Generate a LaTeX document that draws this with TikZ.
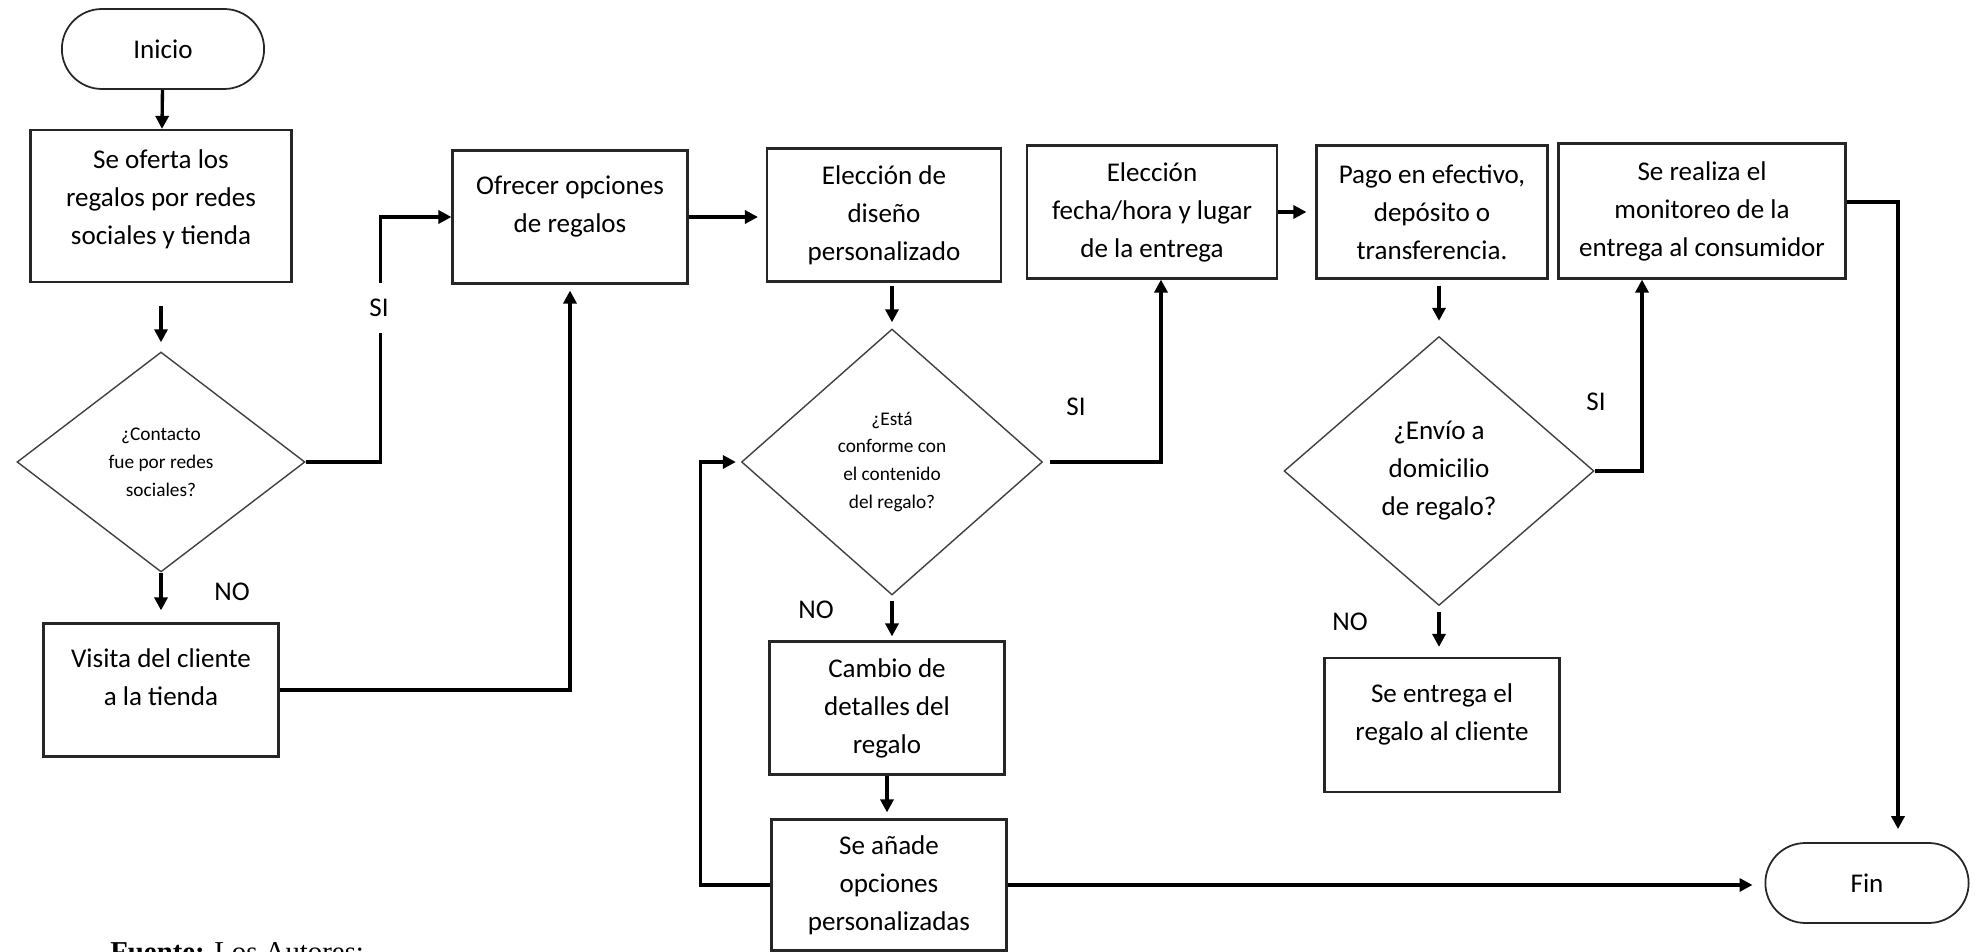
\documentclass[tikz,border=0pt]{standalone}
\usepackage{fontspec}
\setmainfont{Carlito}
\newfontfamily\timesfont{Liberation Serif}
\usetikzlibrary{shapes.geometric, shapes.misc, arrows.meta}

\begin{document}
\begin{tikzpicture}[
    x=0.02cm, y=-0.02cm,
    font=\fontsize{15.4}{21.6}\selectfont,
    box/.style={draw=black!85, line width=1.25pt, minimum height=2.66cm, inner sep=2pt, align=center},
    term/.style={draw=black!85, line width=1pt, rounded rectangle, minimum height=1.6cm},
    decision/.style={draw=black!75, line width=0.8pt, diamond, inner sep=0pt, align=center},
    small/.style={font=\fontsize{11}{15.9}\selectfont},
    flow/.style={line width=1.9pt, -{Triangle[length=0.26cm, width=0.26cm]}},
    lbl/.style={inner sep=1pt}
]
    \useasboundingbox (0,0) rectangle (1978,952);

    % --- Start / End ---
    \node[term, minimum width=4.28cm] (ini) at (163,49) {Inicio};
    \node[term, minimum width=4.3cm] (fin) at (1867,883) {Fin};

    % --- First column ---
    \node[box, minimum width=5.22cm, minimum height=3.04cm] (oferta) at (161,206) {Se oferta los\\regalos por redes\\sociales y tienda\\[-11.4pt]\mbox{}};
    \node[decision, small, minimum width=5.76cm, minimum height=4.4cm] (d1) at (161,462) {¿Contacto\\fue por redes\\sociales?};
    \node[box, minimum width=4.7cm] (visita) at (161,690) {Visita del cliente\\a la tienda\\[-6.8pt]\mbox{}};

    % --- Top row ---
    \node[box, minimum width=4.7cm] (ofrecer) at (570,217) {Ofrecer opciones\\de regalos\\[-6.8pt]\mbox{}};
    \node[box, minimum width=4.68cm] (diseno) at (884,215) {Elección de\\diseño\\personalizado};
    \node[box, minimum width=5.0cm] (fecha) at (1152,212) {Elección\\fecha/hora y lugar\\de la entrega};
    \node[box, minimum width=4.62cm] (pago) at (1432,212) {Pago en efectivo,\\depósito o\\transferencia.};
    \node[box, minimum width=5.74cm, minimum height=2.7cm] (monit) at (1702,211) {Se realiza el\\monitoreo de la\\entrega al consumidor};

    % --- Decisions ---
    \node[decision, small, minimum width=6.02cm, minimum height=5.32cm] (d2) at (892,462) {¿Está\\conforme con\\el contenido\\del regalo?};
    \node[decision, minimum width=6.2cm, minimum height=5.38cm] (d3) at (1439,471) {¿Envío a\\domicilio\\de regalo?};

    % --- Lower boxes ---
    \node[box, minimum width=4.7cm] (cambio) at (887,708) {Cambio de\\detalles del\\regalo};
    \node[box, minimum width=4.7cm, minimum height=2.62cm] (anade) at (889,885) {Se añade\\opciones\\personalizadas};
    \node[box, minimum width=4.7cm, minimum height=2.68cm] (entrega) at (1442,725) {Se entrega el\\regalo al cliente\\[-6.8pt]\mbox{}};

    % --- Connectors ---
    \draw[flow] (ini) -- (oferta);
    \draw[flow, shorten <=0.46cm, shorten >=0.18cm] (oferta) -- (d1);
    \draw[flow] (d1.east) -- ++(75,0) |- (ofrecer.west);
    \draw[flow, shorten >=0.24cm] (d1) -- (visita);
    \draw[flow, shorten >=0.12cm] (visita.east) -| (ofrecer.south);
    \draw[flow, shorten >=0.16cm] (ofrecer.east) -- (ofrecer.east -| diseno.west);
    \draw[flow, shorten <=0.06cm, shorten >=0.12cm] (diseno.south -| d2.north) -- (d2.north);
    \draw[flow, shorten <=0.14cm] (d2.east) -| ([xshift=0.18cm]fecha.south);
    \draw[flow, shorten >=0.18cm] (fecha.east) -- (fecha.east -| pago.west);
    \draw[flow, shorten <=0.12cm, shorten >=0.3cm] (pago.south -| d3.north) -- (d3.north);
    \draw[flow] (d3.east) -| ([xshift=-1.2cm]monit.south);
    \draw[flow, shorten >=0.26cm] ([yshift=0.18cm]monit.east) -| ([xshift=0.62cm]fin.north);
    \draw[flow, shorten <=0.12cm, shorten >=0.2cm] (d3.south) -- (d3.south |- entrega.north);
    \draw[flow, shorten <=0.1cm, shorten >=0.08cm] (d2.south) -- (d2.south |- cambio.north);
    \draw[flow, shorten >=0.12cm] (cambio.south) -- (cambio.south |- anade.north);
    \draw[flow, shorten >=0.1cm] (anade.west) -- ++(-70,0) |- (d2.west);
    \draw[flow, shorten >=0.24cm] (anade.east) -- (anade.east -| fin.west);

    % --- Branch labels ---
    \node[lbl, fill=white, minimum height=1cm] (si1) at (379,308) {SI};
    \node[lbl] (no1) at (232,592) {NO};
    \node[lbl] (si2) at (1076,407) {SI};
    \node[lbl] (no2) at (816,610) {NO};
    \node[lbl] (si3) at (1596,402) {SI};
    \node[lbl] (no3) at (1350,622) {NO};

    % --- Source note ---
    \node[anchor=base west, inner sep=0pt, font=\timesfont\fontsize{16.4}{20}\selectfont] (fuente) at (110,961) {\textbf{Fuente:} Los Autores;};

\end{tikzpicture}
\end{document}
